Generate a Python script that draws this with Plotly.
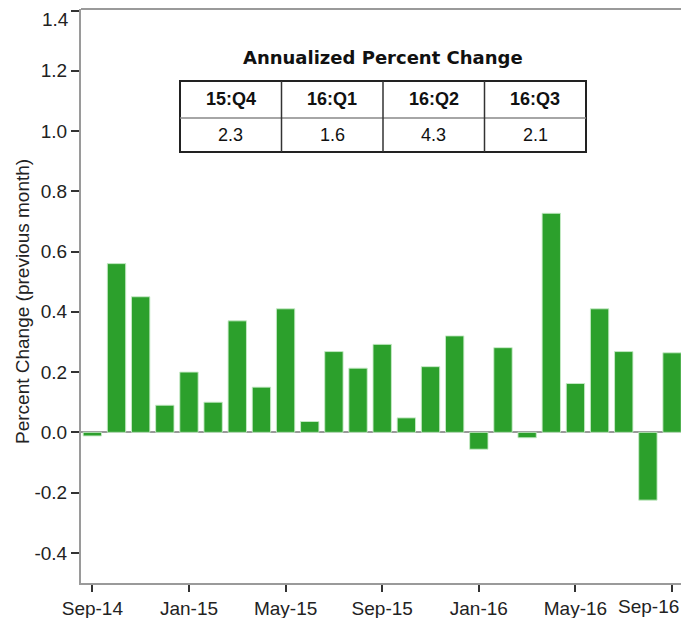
import plotly.graph_objects as go

months = ["Sep-14", "Oct-14", "Nov-14", "Dec-14", "Jan-15", "Feb-15", "Mar-15", "Apr-15",
          "May-15", "Jun-15", "Jul-15", "Aug-15", "Sep-15", "Oct-15", "Nov-15", "Dec-15",
          "Jan-16", "Feb-16", "Mar-16", "Apr-16", "May-16", "Jun-16", "Jul-16", "Aug-16", "Sep-16"]
pct_change = [-0.012, 0.56, 0.45, 0.09, 0.20, 0.10, 0.37, 0.15,
              0.41, 0.036, 0.268, 0.213, 0.292, 0.048, 0.218, 0.32,
              -0.056, 0.281, -0.018, 0.727, 0.162, 0.41, 0.268, -0.225, 0.264]
tick_labels = ["Sep-14", "Jan-15", "May-15", "Sep-15", "Jan-16", "May-16", "Sep-16"]
y_ticks = [-0.4, -0.2, 0.0, 0.2, 0.4, 0.6, 0.8, 1.0, 1.2, 1.4]
y_title = "Percent Change (previous month)"

table_title = "Annualized Percent Change"
quarters = ["15:Q4", "16:Q1", "16:Q2", "16:Q3"]
annualized = ["2.3", "1.6", "4.3", "2.1"]

W, H = 681, 618
EXTRA = 6  # figure slightly wider than the window so the plot runs off the right edge
ML, MR, MT, MB = 81, EXTRA, 9, 35

x_idx = list(range(len(months)))
tick_pos = [months.index(t) for t in tick_labels]
# last label (Sep-16) is drawn separately, pushed left to fit the window
tick_text = tick_labels[:-1] + [""]

fig = go.Figure()
fig.add_trace(go.Bar(
    x=x_idx, y=pct_change,
    marker=dict(color="#2ca02c", line=dict(color="rgba(200,235,200,0.9)", width=1)),
    hovertext=months,
))

fig.update_layout(
    width=W + EXTRA, height=H,
    margin=dict(l=ML, r=MR, t=MT, b=MB, autoexpand=False),
    paper_bgcolor="white", plot_bgcolor="white",
    showlegend=False, bargap=0.24,
    font=dict(family="Liberation Sans, Arial, sans-serif", size=19, color="#222"),
    xaxis=dict(
        range=[-0.47, 24.37], tickmode="array", tickvals=tick_pos, ticktext=tick_text,
        showgrid=False, zeroline=False, showline=True, linecolor="#9a9a9a", linewidth=2,
        mirror=False, ticks="outside", ticklen=7, tickwidth=2, tickcolor="#333",
        tickfont=dict(size=19, color="#222"), automargin=False,
    ),
    yaxis=dict(
        range=[-0.5, 1.405], tickmode="array", tickvals=y_ticks,
        ticktext=[("%.1f" % v) if v < 1.35 else "" for v in y_ticks],
        showgrid=False, zeroline=True, zerolinecolor="#9a9a9a", zerolinewidth=2,
        showline=True, linecolor="#9a9a9a", linewidth=2,
        ticks="outside", ticklen=8, tickwidth=2, tickcolor="#333",
        tickfont=dict(size=19, color="#222"), automargin=False,
    ),
)

pw, ph = W - ML - (MR - EXTRA), H - MT - MB
def px(x):
    return (x - ML) / pw
def py(y):
    return 1 - (y - MT) / ph

# y-axis title
fig.add_annotation(xref="paper", yref="paper", x=px(22), y=py(302), text=y_title, textangle=-90,
                   showarrow=False, xanchor="center", yanchor="middle",
                   font=dict(size=19, color="#222"))

# top "1.4" label (drawn slightly below the top tick as in the reference)
fig.add_annotation(xref="paper", yref="paper", x=px(71), y=py(20),
                   text="1.4", showarrow=False, xanchor="right", yanchor="middle",
                   font=dict(size=19, color="#222"))

# Sep-16 label, shifted left to stay inside the window
fig.add_annotation(xref="paper", yref="paper", x=px(681), y=py(606),
                   text=tick_labels[-1], showarrow=False, xanchor="right", yanchor="middle",
                   font=dict(size=19, color="#222"))

tx0, tx1 = 180, 586
ty0, tym, ty1 = 81, 118, 152
col_w = (tx1 - tx0) / len(quarters)

fig.add_annotation(xref="paper", yref="paper", x=px((tx0 + tx1) / 2), y=py(58),
                   text="<b>%s</b>" % table_title, showarrow=False, xanchor="center", yanchor="middle",
                   font=dict(family="DejaVu Sans, Verdana, sans-serif", size=18, color="#111"))

shapes = []
shapes.append(dict(type="line", xref="paper", yref="paper", x0=0, x1=1, y0=1, y1=1,
                   line=dict(color="#9a9a9a", width=2), layer="above"))
shapes.append(dict(type="rect", xref="paper", yref="paper", x0=px(tx0), x1=px(tx1), y0=py(ty1), y1=py(ty0),
                   line=dict(color="#222", width=2), fillcolor="white", layer="above"))
shapes.append(dict(type="line", xref="paper", yref="paper", x0=px(tx0), x1=px(tx1), y0=py(tym), y1=py(tym),
                   line=dict(color="#888", width=1.5), layer="above"))
for i in range(1, len(quarters)):
    xx = tx0 + i * col_w
    shapes.append(dict(type="line", xref="paper", yref="paper", x0=px(xx), x1=px(xx), y0=py(ty1), y1=py(ty0),
                       line=dict(color="#333", width=1.5), layer="above"))
fig.update_layout(shapes=shapes)

for i, (q, v) in enumerate(zip(quarters, annualized)):
    cx = tx0 + (i + 0.5) * col_w
    fig.add_annotation(xref="paper", yref="paper", x=px(cx), y=py((ty0 + tym) / 2), text="<b>%s</b>" % q,
                       showarrow=False, xanchor="center", yanchor="middle",
                       font=dict(size=18, color="#111"))
    fig.add_annotation(xref="paper", yref="paper", x=px(cx), y=py((tym + ty1) / 2), text=v,
                       showarrow=False, xanchor="center", yanchor="middle",
                       font=dict(size=18, color="#111"))

fig.write_html("out.html", config={"displayModeBar": False},
               post_script="document.body.style.margin='0';document.body.style.overflow='hidden';")
